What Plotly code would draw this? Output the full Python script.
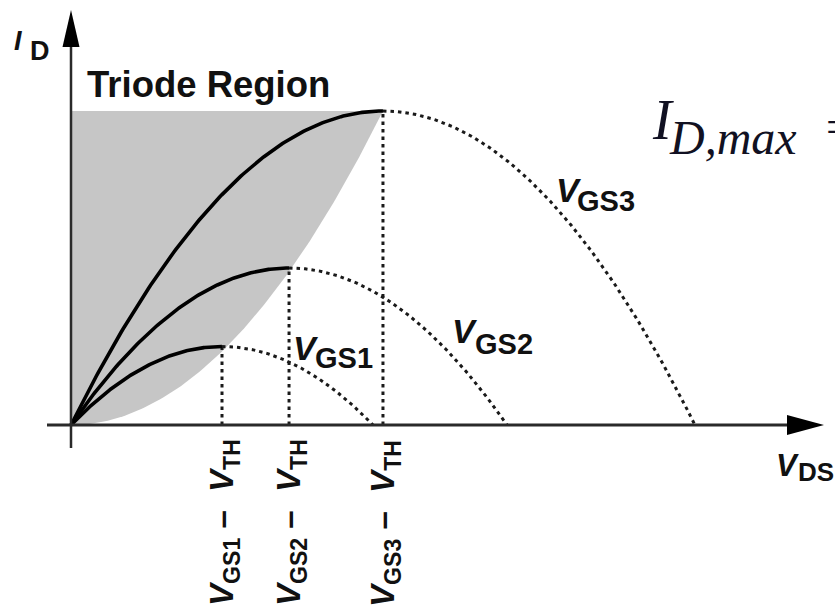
import numpy as np
import plotly.graph_objects as go

# ---------------- data ----------------
curve_subs = ["GS1", "GS2", "GS3"]          # V_GS1 < V_GS2 < V_GS3
v_overdrive = [1.0, 1.444, 2.066]           # V_GS - V_TH of each curve (edge of triode)
id_peak = [1.0, 2.0, 4.0]                   # I_D at V_DS = V_GS - V_TH
tick_texts = ["GS1", "GS2", "GS3"]          # rotated x labels "V_GSn - V_TH"

# ---------------- canvas mapping ----------------
W, H = 835, 611
X0, Y0 = 71.0, 425.0        # pixel position of the origin
SX, SY = 151.0, 78.5        # pixels per data unit


def dx(px):
    return (px - X0) / SX


def dy(py):
    return (Y0 - py) / SY


def pxp(px):
    return px / W


def pyp(py):
    return 1 - py / H


fig = go.Figure()

# triode region (gray): bounded by the locus I_D = k * V_DS^2 through the peaks
k = id_peak[-1] / v_overdrive[-1] ** 2
xb = np.linspace(0, v_overdrive[-1], 120)
fig.add_trace(go.Scatter(
    x=np.concatenate([xb, [0, 0]]),
    y=np.concatenate([k * xb ** 2, [id_peak[-1], 0]]),
    fill="toself", fillcolor="#c6c6c6", line=dict(width=0),
    mode="lines", hoverinfo="skip", showlegend=False))

dot_line = dict(color="#1a1a1a", width=3, dash="3.5px,4px")

for vo, ip in zip(v_overdrive, id_peak):
    # vertical dotted line from the peak to the V_DS axis
    fig.add_trace(go.Scatter(x=[vo, vo], y=[0, ip], mode="lines",
                             line=dot_line, hoverinfo="skip", showlegend=False))
    # dotted continuation of the parabola (beyond triode)
    xs = np.linspace(vo, 2 * vo, 150)
    fig.add_trace(go.Scatter(x=xs, y=ip * (2 * xs / vo - (xs / vo) ** 2), mode="lines",
                             line=dot_line, hoverinfo="skip", showlegend=False))

for vo, ip in zip(v_overdrive, id_peak):
    xs = np.linspace(0, vo, 150)
    fig.add_trace(go.Scatter(x=xs, y=ip * (2 * xs / vo - (xs / vo) ** 2), mode="lines",
                             line=dict(color="#000000", width=3.6),
                             hoverinfo="skip", showlegend=False))

# ---------------- axes with arrows ----------------
axis_col = "#2a2a2a"
shapes = [
    dict(type="line", x0=dx(47), x1=dx(792), y0=0, y1=0,
         line=dict(color=axis_col, width=3), layer="above"),
    dict(type="line", x0=0, x1=0, y0=dy(448), y1=dy(45),
         line=dict(color=axis_col, width=2.5), layer="above"),
    dict(type="path",
         path=f"M {dx(787)} {dy(415)} L {dx(824)} {dy(425)} L {dx(787)} {dy(435)} Z",
         fillcolor="#000000", line=dict(width=0), layer="above"),
    dict(type="path",
         path=f"M {dx(62.5)} {dy(47)} L {dx(71)} {dy(10)} L {dx(79.5)} {dy(47)} Z",
         fillcolor="#000000", line=dict(width=0), layer="above"),
]

SANS = "Liberation Sans, Arial, Helvetica, sans-serif"
SERIF = "Liberation Serif, Times New Roman, serif"
ann = []


def txt(text, x, y, size, italic=False, bold=True, family=SANS, color="#111111",
        xanchor="left", yanchor="middle", angle=0, xref="paper"):
    ann.append(dict(text=text, x=x, y=pyp(y), xref=xref, yref="paper",
                    xanchor=xanchor, yanchor=yanchor, showarrow=False,
                    textangle=angle, borderpad=0,
                    font=dict(family=family, size=size, color=color,
                              weight="bold" if bold else "normal",
                              style="italic" if italic else "normal")))


# axis titles
txt("I", pxp(13), 41, 27, italic=True)
txt("D", pxp(29), 51, 27)
txt("V", pxp(775), 465, 31, italic=True)
txt("DS", pxp(797), 471.5, 26)

# region title
txt("Triode Region", pxp(86), 85, 36.5)

# curve labels
lab_pos = {"GS1": (292, 347.5, 314, 357.5),
           "GS2": (451, 330.5, 474, 343.5),
           "GS3": (555, 190, 576, 201.5)}
for s in curve_subs:
    vx, vy, sx_, sy_ = lab_pos[s]
    txt("V", pxp(vx), vy, 34, italic=True)
    txt(s, pxp(sx_), sy_, 29)

# rotated x-axis labels at V_DS = V_GS - V_TH
for vo, s in zip(v_overdrive, tick_texts):
    txt(f"<b><i>V</i><sub><b>{s}</b></sub>\u00a0\u2013\u00a0\u00a0<i>V</i><sub><b>TH</b></sub></b>",
        vo + dx(73), 523, 33, angle=-90, xanchor="center", xref="x")

# formula fragment at the right edge
txt("I", pxp(651), 119.5, 56, italic=True, bold=False, family=SERIF, color="#111122")
txt("D,max", pxp(668), 137.5, 48, italic=True, bold=False, family=SERIF, color="#111122")
txt("=", pxp(825), 126, 46, bold=False, family=SERIF, color="#111122")

fig.update_layout(
    width=W, height=H, margin=dict(l=0, r=0, t=0, b=0),
    paper_bgcolor="white", plot_bgcolor="white",
    xaxis=dict(range=[dx(0), dx(W)], visible=False, fixedrange=True),
    yaxis=dict(range=[dy(H), dy(0)], visible=False, fixedrange=True),
    shapes=shapes, annotations=ann, showlegend=False)

fig.write_html("out.html", config={"displayModeBar": False},
               post_script="document.body.style.margin='0px';"
                           "document.body.style.overflow='hidden';")
